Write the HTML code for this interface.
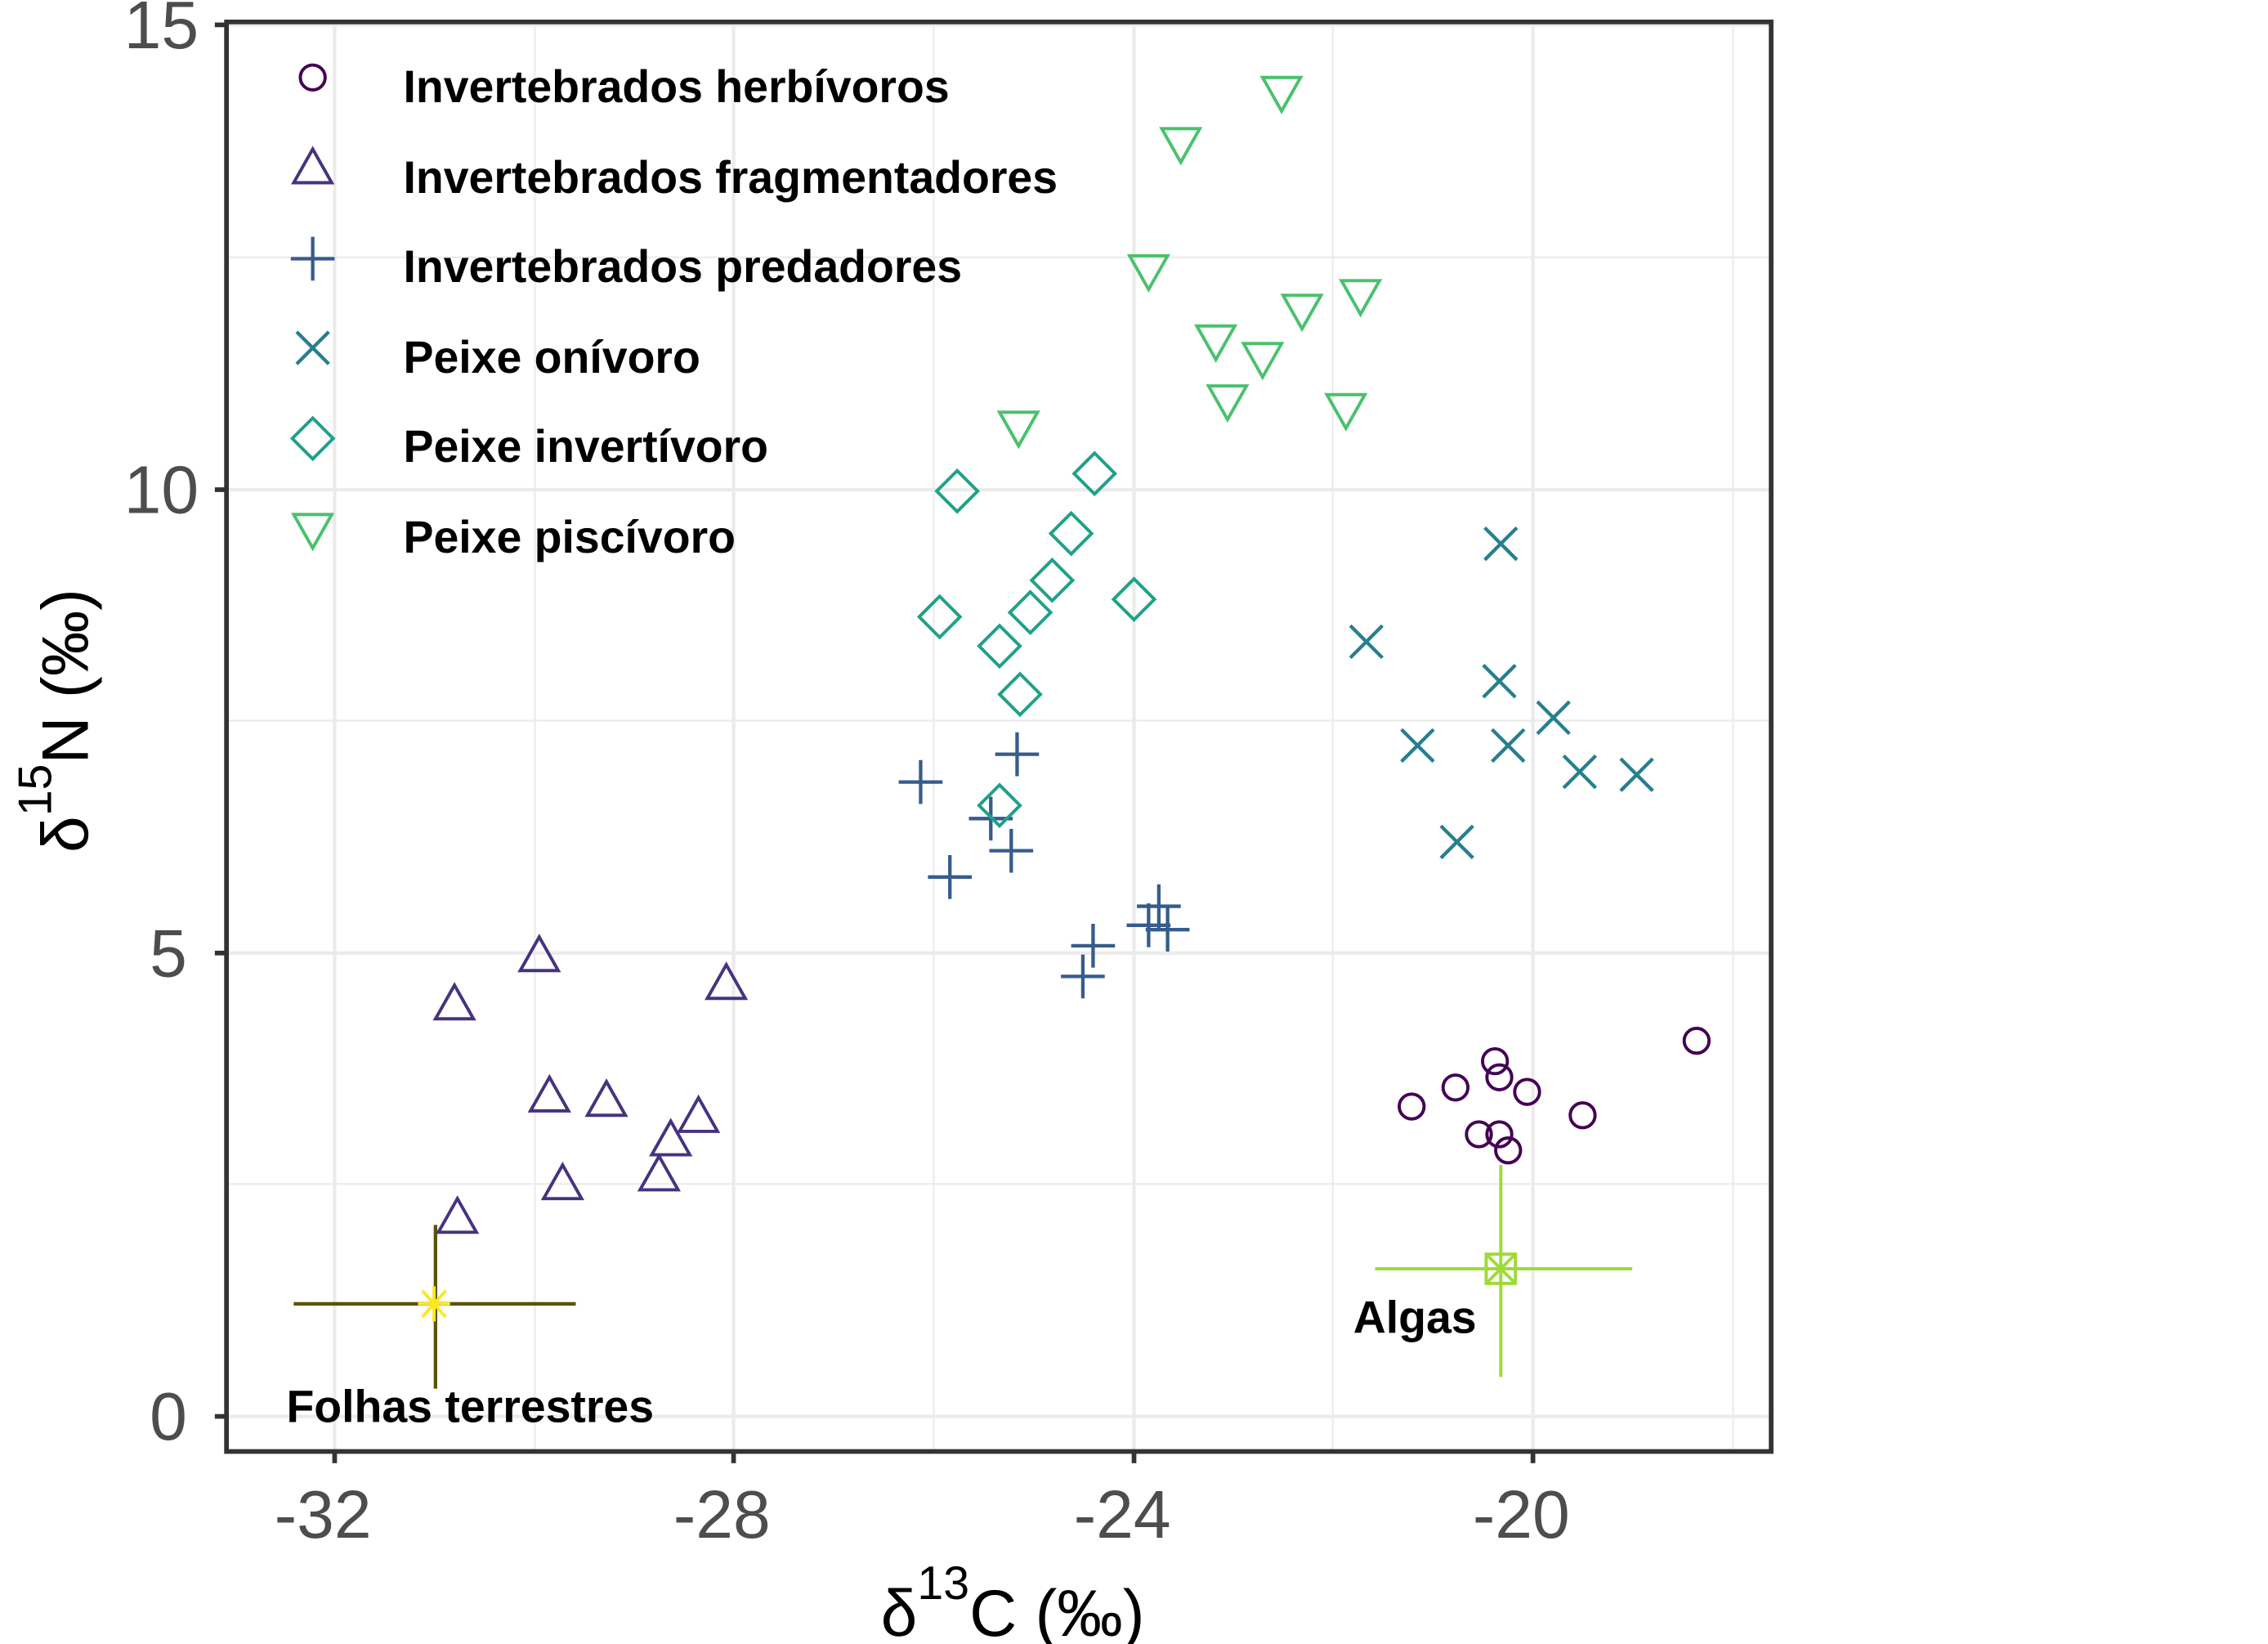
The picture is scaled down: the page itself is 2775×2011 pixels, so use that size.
<!DOCTYPE html>
<html><head><meta charset="utf-8"><style>html,body{margin:0;padding:0;background:#fff}svg{display:block}</style></head><body>
<svg width="2775" height="2011" viewBox="0 0 1552 1124.7" xmlns="http://www.w3.org/2000/svg" font-family="Liberation Sans, sans-serif">
<rect width="1552" height="1125" fill="#fff"/>
<g stroke="#ebebeb" stroke-width="1.2">
<line x1="366" y1="15" x2="366" y2="993"/><line x1="639" y1="15" x2="639" y2="993"/><line x1="912" y1="15" x2="912" y2="993"/><line x1="1186" y1="15" x2="1186" y2="993"/>
<line x1="155" y1="810" x2="1212" y2="810"/><line x1="155" y1="493" x2="1212" y2="493"/><line x1="155" y1="176" x2="1212" y2="176"/>
</g>
<g stroke="#ebebeb" stroke-width="2.4">
<line x1="229" y1="15" x2="229" y2="993"/><line x1="502" y1="15" x2="502" y2="993"/><line x1="776" y1="15" x2="776" y2="993"/><line x1="1049" y1="15" x2="1049" y2="993"/>
<line x1="155" y1="969" x2="1212" y2="969"/><line x1="155" y1="652" x2="1212" y2="652"/><line x1="155" y1="335" x2="1212" y2="335"/><line x1="155" y1="17" x2="1212" y2="17"/>
</g>
<g stroke="#5a5200" stroke-width="2.4"><line x1="201" y1="892" x2="394" y2="892"/><line x1="298" y1="838" x2="298" y2="950"/></g>
<g stroke="#FDE725" stroke-width="2.2"><line x1="286" y1="892" x2="308" y2="892"/><line x1="297" y1="880" x2="297" y2="904"/><line x1="289" y1="883" x2="305" y2="901"/><line x1="305" y1="883" x2="289" y2="901"/></g>
<g stroke="#9FDA3A" stroke-width="2.2" fill="none"><line x1="941" y1="868" x2="1117" y2="868"/><line x1="1027" y1="797" x2="1027" y2="942"/><rect x="1017" y="858" width="20" height="20"/><line x1="1017" y1="858" x2="1037" y2="878"/><line x1="1037" y1="858" x2="1017" y2="878"/></g>
<g stroke="#440154" stroke-width="2.2" fill="none">
<circle cx="1161" cy="712" r="8.5"/><circle cx="1023" cy="726" r="8.5"/><circle cx="1026" cy="737" r="8.5"/><circle cx="996" cy="744" r="8.5"/><circle cx="1045" cy="747" r="8.5"/><circle cx="966" cy="757" r="8.5"/><circle cx="1083" cy="763" r="8.5"/><circle cx="1012" cy="776" r="8.5"/><circle cx="1026" cy="776" r="8.5"/><circle cx="1032" cy="787" r="8.5"/>
<circle cx="214" cy="53" r="8.5"/>
</g>
<g stroke="#46337E" stroke-width="2.2" fill="none">
<path d="M0,-13 L13,10 L-13,10 Z" transform="translate(369,654)"/>
<path d="M0,-13 L13,10 L-13,10 Z" transform="translate(311,687)"/>
<path d="M0,-13 L13,10 L-13,10 Z" transform="translate(497,673)"/>
<path d="M0,-13 L13,10 L-13,10 Z" transform="translate(376,750)"/>
<path d="M0,-13 L13,10 L-13,10 Z" transform="translate(415,753)"/>
<path d="M0,-13 L13,10 L-13,10 Z" transform="translate(478,764)"/>
<path d="M0,-13 L13,10 L-13,10 Z" transform="translate(459,780)"/>
<path d="M0,-13 L13,10 L-13,10 Z" transform="translate(385,810)"/>
<path d="M0,-13 L13,10 L-13,10 Z" transform="translate(451,804)"/>
<path d="M0,-13 L13,10 L-13,10 Z" transform="translate(313,833)"/>
<path d="M0,-13 L13,10 L-13,10 Z" transform="translate(214,115)"/>
</g>
<g stroke="#365C8D" stroke-width="2.4" fill="none">
<path d="M-15,0H15M0,-15V15" transform="translate(630,535)"/>
<path d="M-15,0H15M0,-15V15" transform="translate(696,516)"/>
<path d="M-15,0H15M0,-15V15" transform="translate(678,560)"/>
<path d="M-15,0H15M0,-15V15" transform="translate(650,600)"/>
<path d="M-15,0H15M0,-15V15" transform="translate(692,582)"/>
<path d="M-15,0H15M0,-15V15" transform="translate(748,647)"/>
<path d="M-15,0H15M0,-15V15" transform="translate(741,668)"/>
<path d="M-15,0H15M0,-15V15" transform="translate(793,620)"/>
<path d="M-15,0H15M0,-15V15" transform="translate(786,633)"/>
<path d="M-15,0H15M0,-15V15" transform="translate(799,636)"/>
<path d="M-15,0H15M0,-15V15" transform="translate(214,177)"/>
</g>
<g stroke="#277F8E" stroke-width="2.4" fill="none">
<path d="M-11,-11L11,11M11,-11L-11,11" transform="translate(1027,372)"/>
<path d="M-11,-11L11,11M11,-11L-11,11" transform="translate(935,439)"/>
<path d="M-11,-11L11,11M11,-11L-11,11" transform="translate(1026,466)"/>
<path d="M-11,-11L11,11M11,-11L-11,11" transform="translate(970,510)"/>
<path d="M-11,-11L11,11M11,-11L-11,11" transform="translate(1032,510)"/>
<path d="M-11,-11L11,11M11,-11L-11,11" transform="translate(1063,491)"/>
<path d="M-11,-11L11,11M11,-11L-11,11" transform="translate(1081,528)"/>
<path d="M-11,-11L11,11M11,-11L-11,11" transform="translate(1120,530)"/>
<path d="M-11,-11L11,11M11,-11L-11,11" transform="translate(997,576)"/>
<path d="M-11,-11L11,11M11,-11L-11,11" transform="translate(214,238)"/>
</g>
<g stroke="#1FA187" stroke-width="2.2" fill="none">
<path d="M0,-14L14,0L0,14L-14,0Z" transform="translate(655,336)"/>
<path d="M0,-14L14,0L0,14L-14,0Z" transform="translate(749,324)"/>
<path d="M0,-14L14,0L0,14L-14,0Z" transform="translate(733,365)"/>
<path d="M0,-14L14,0L0,14L-14,0Z" transform="translate(720,397)"/>
<path d="M0,-14L14,0L0,14L-14,0Z" transform="translate(776,410)"/>
<path d="M0,-14L14,0L0,14L-14,0Z" transform="translate(643,422)"/>
<path d="M0,-14L14,0L0,14L-14,0Z" transform="translate(705,419)"/>
<path d="M0,-14L14,0L0,14L-14,0Z" transform="translate(684,442)"/>
<path d="M0,-14L14,0L0,14L-14,0Z" transform="translate(698,475)"/>
<path d="M0,-14L14,0L0,14L-14,0Z" transform="translate(684,551)"/>
<path d="M0,-14L14,0L0,14L-14,0Z" transform="translate(214,300)"/>
</g>
<g stroke="#4AC16D" stroke-width="2.2" fill="none">
<path d="M0,13 L13,-10 L-13,-10 Z" transform="translate(877,63)"/>
<path d="M0,13 L13,-10 L-13,-10 Z" transform="translate(808,98)"/>
<path d="M0,13 L13,-10 L-13,-10 Z" transform="translate(786,185)"/>
<path d="M0,13 L13,-10 L-13,-10 Z" transform="translate(931,202)"/>
<path d="M0,13 L13,-10 L-13,-10 Z" transform="translate(891,212)"/>
<path d="M0,13 L13,-10 L-13,-10 Z" transform="translate(832,233)"/>
<path d="M0,13 L13,-10 L-13,-10 Z" transform="translate(864,245)"/>
<path d="M0,13 L13,-10 L-13,-10 Z" transform="translate(840,274)"/>
<path d="M0,13 L13,-10 L-13,-10 Z" transform="translate(921,280)"/>
<path d="M0,13 L13,-10 L-13,-10 Z" transform="translate(697,292)"/>
<path d="M0,13 L13,-10 L-13,-10 Z" transform="translate(214,362)"/>
</g>
<rect x="155" y="15" width="1057" height="978" fill="none" stroke="#333" stroke-width="3.2"/>
<g stroke="#333" stroke-width="3.2">
<line x1="147" y1="17" x2="155" y2="17"/><line x1="147" y1="335" x2="155" y2="335"/><line x1="147" y1="652" x2="155" y2="652"/><line x1="147" y1="969" x2="155" y2="969"/>
<line x1="229" y1="993" x2="229" y2="1001"/><line x1="502" y1="993" x2="502" y2="1001"/><line x1="776" y1="993" x2="776" y2="1001"/><line x1="1049" y1="993" x2="1049" y2="1001"/>
</g>
<g fill="#4d4d4d" font-size="46" text-anchor="end">
<text x="136" y="33">15</text><text x="136" y="351">10</text><text x="128" y="668">5</text><text x="128" y="985">0</text>
</g>
<g fill="#4d4d4d" font-size="46" text-anchor="middle">
<text x="221" y="1052">-32</text><text x="494" y="1052">-28</text><text x="768" y="1052">-24</text><text x="1041" y="1052">-20</text>
</g>
<text x="693" y="1119" font-size="45" text-anchor="middle">δ<tspan dy="-25" font-size="32">13</tspan><tspan dy="25">C (‰)</tspan></text>
<text transform="translate(60,493) rotate(-90)" font-size="45" text-anchor="middle">δ<tspan dy="-25" font-size="32">15</tspan><tspan dy="25">N (‰)</tspan></text>
<g font-size="31" font-weight="bold" fill="#000">
<text x="276" y="70">Invertebrados herbívoros</text>
<text x="276" y="132">Invertebrados fragmentadores</text>
<text x="276" y="193">Invertebrados predadores</text>
<text x="276" y="255">Peixe onívoro</text>
<text x="276" y="316">Peixe invertívoro</text>
<text x="276" y="378">Peixe piscívoro</text>
<text x="196" y="973">Folhas terrestres</text>
<text x="926" y="912">Algas</text>
</g>
</svg>
</body></html>
